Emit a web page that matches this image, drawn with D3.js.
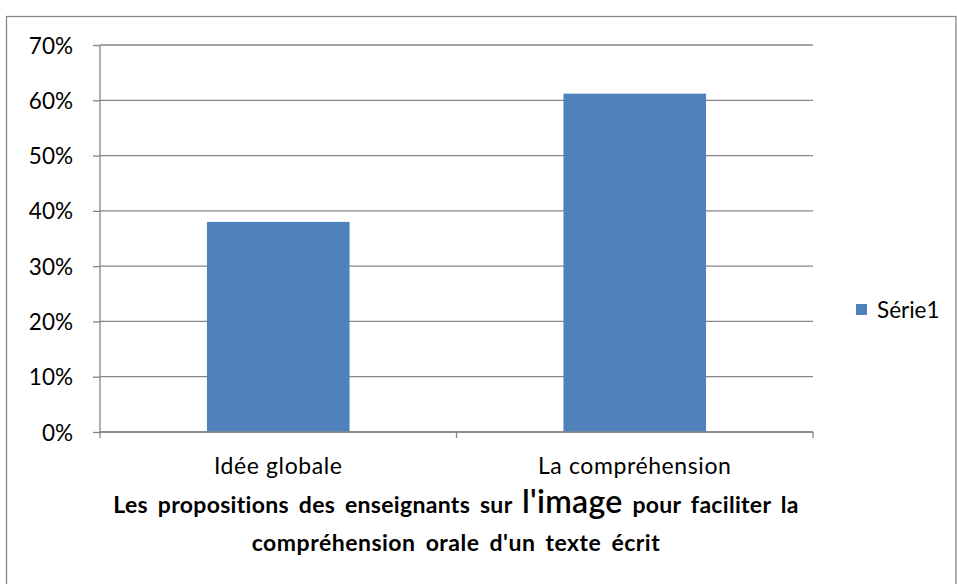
<!DOCTYPE html>
<html>
<head>
<meta charset="utf-8">
<script src="https://cdn.jsdelivr.net/npm/d3@7"></script>
<style>
  body { margin: 0; background: #fff; }
  text { font-family: Lato, "Open Sans", sans-serif; fill: #000; }
</style>
</head>
<body>
<div id="chart"></div>
<script>
// data
var categories = ["Idée globale", "La compréhension"];
var seriesName = "Série1";
var values = [0.38, 0.612];
var yTicks = [0, 0.1, 0.2, 0.3, 0.4, 0.5, 0.6, 0.7];

var w = 957, h = 584;
var margin = {top: 45, right: 144, bottom: 152, left: 100};
var width = w - margin.left - margin.right;
var height = h - margin.top - margin.bottom;

var svg = d3.select("#chart").append("svg")
    .attr("width", w)
    .attr("height", h);

// outer chart border
svg.append("rect")
    .attr("x", 6.5).attr("y", 16.5)
    .attr("width", 956 - 6.5).attr("height", h)
    .attr("fill", "none")
    .attr("stroke", "#888")
    .attr("stroke-width", 1.3);

var g = svg.append("g")
    .attr("transform", "translate(" + margin.left + "," + margin.top + ")");

var xScale = d3.scaleBand().domain(categories).range([0, width]).paddingInner(0.6).paddingOuter(0.3);
var yScale = d3.scaleLinear().domain([0, 0.7]).range([height, 0]);

// gridlines
g.selectAll("line.grid")
    .data(yTicks)
    .enter().append("line")
    .attr("class", "grid")
    .attr("x1", 0).attr("x2", width)
    .attr("y1", function(d) { return yScale(d); })
    .attr("y2", function(d) { return yScale(d); })
    .attr("stroke", "#868686")
    .attr("stroke-width", 1.3);

// bars
g.selectAll("rect.bar")
    .data(values)
    .enter().append("rect")
    .attr("class", "bar")
    .attr("x", function(d, i) { return xScale(categories[i]); })
    .attr("width", xScale.bandwidth())
    .attr("y", function(d) { return yScale(d); })
    .attr("height", function(d) { return height - yScale(d); })
    .attr("fill", "#4F81BD");

// y axis
var yAxis = d3.axisLeft(yScale)
    .tickValues(yTicks)
    .tickSize(7)
    .tickPadding(20)
    .tickFormat(d3.format(".0%"));
var yG = g.append("g").call(yAxis);
yG.select(".domain").attr("stroke", "#868686").attr("stroke-width", 1.3).attr("d", "M0,0V" + height);
yG.selectAll(".tick line").attr("stroke", "#868686").attr("stroke-width", 1.3);
yG.selectAll("text").style("font-size", "22.5px").attr("dy", "0.36em");

// x axis, ticks between categories like Excel
var xG = g.append("g").attr("transform", "translate(0," + height + ")");
xG.append("line").attr("x1", 0).attr("x2", width).attr("y1", 0).attr("y2", 0)
    .attr("stroke", "#868686").attr("stroke-width", 1.3);
xG.selectAll("line.tk")
    .data([0, width / 2, width])
    .enter().append("line")
    .attr("x1", function(d) { return d; }).attr("x2", function(d) { return d; })
    .attr("y1", 0).attr("y2", 6)
    .attr("stroke", "#868686").attr("stroke-width", 1.3);
xG.selectAll("text.cat")
    .data(categories)
    .enter().append("text")
    .attr("x", function(d) { return xScale(d) + xScale.bandwidth() / 2; })
    .attr("y", 42)
    .attr("text-anchor", "middle")
    .style("font-size", "23px")
    .style("letter-spacing", "0.6px")
    .text(function(d) { return d; });

// axis title
var title = svg.append("text")
    .attr("x", 456).attr("y", 513)
    .attr("text-anchor", "middle")
    .style("font-size", "23px")
    .style("font-weight", "bold")
    .style("letter-spacing", "0.3px")
    .style("word-spacing", "4px");
title.append("tspan").text("Les propositions des enseignants sur ");
title.append("tspan").style("font-size", "32px").style("font-weight", "600").text("l'image");
title.append("tspan").text(" pour faciliter la");
svg.append("text")
    .attr("x", 456).attr("y", 551)
    .attr("text-anchor", "middle")
    .style("font-size", "23px")
    .style("font-weight", "bold")
    .style("letter-spacing", "0.5px")
    .style("word-spacing", "4px")
    .text("compréhension orale d'un texte écrit");

// legend
var legend = svg.append("g").attr("transform", "translate(856,304)");
legend.append("rect").attr("width", 11).attr("height", 11).attr("fill", "#4F81BD");
legend.append("text").attr("x", 21).attr("y", 14).style("font-size", "22.5px").text(seriesName);
</script>
</body>
</html>
